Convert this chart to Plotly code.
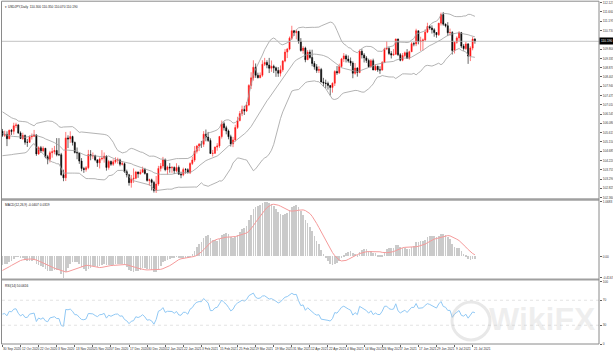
import numpy as np
import pandas as pd
import plotly.graph_objects as go

# ---------------- data (USDJPY daily, 30 Sep 2020 - 22 Jul 2021) ----------------
warmup_closes = [
    107.45, 107.50, 107.50, 107.35, 107.55, 107.25, 107.20, 106.90, 107.30, 107.25, 106.90, 107.25,
    106.95, 107.25, 106.80, 107.20, 106.85, 106.10, 105.40, 105.00, 105.10, 104.75, 105.85,
    106.00, 105.70, 105.55, 105.55, 105.90, 105.95, 106.50, 106.90, 106.90, 106.60, 106.00, 105.40,
    106.10, 105.80, 105.80, 105.90, 106.35, 106.05, 106.60, 105.35, 105.90,
    105.95, 106.15, 106.20, 106.25, 106.25, 106.00, 106.20, 106.15, 106.15, 105.70, 105.40, 104.95,
    104.75, 104.55, 104.65, 104.95, 105.40, 105.40, 105.55, 105.50, 105.70,
]

opens = [
    105.69,
    105.48, 105.53, 105.31, 105.73, 105.68, 105.96, 106.00, 105.60, 105.32, 105.47, 105.13, 105.13, 105.41, 105.43, 105.50, 104.55, 104.86, 104.70, 104.83, 104.41, 104.28, 104.61,
    104.66, 104.72, 104.51, 104.51, 103.50, 103.35, 105.35, 105.30, 105.42, 105.12, 104.62, 104.60, 104.19, 103.82, 103.77, 103.86, 104.52, 104.45, 104.46, 104.25, 104.10,
    104.30, 104.33, 104.44, 103.87, 104.17, 104.03, 104.15, 104.24, 104.25, 104.03, 104.06, 103.66, 103.50, 103.11, 103.29, 103.33, 103.64, 103.55, 103.63, 103.77, 103.57, 103.22,
    103.25, 103.12, 102.71, 103.04, 103.82, 103.94, 104.25, 103.76, 103.89, 103.85, 103.87, 103.70, 103.87, 103.53, 103.50, 103.77, 103.76, 103.60, 104.07, 104.24,
    104.68, 104.94, 105.04, 105.03, 105.54, 105.39, 105.22, 104.57, 104.58, 104.89, 104.95, 105.42, 106.06, 105.86, 105.70, 105.41, 105.05, 105.25, 105.87, 106.22,
    106.57, 106.77, 106.70, 107.00, 107.98, 108.36, 108.89, 108.49, 108.37, 108.49, 109.04, 109.13, 109.00, 108.84, 108.94, 108.86, 108.73, 108.59, 108.76, 109.20, 109.65, 109.80, 110.35,
    110.72, 110.62, 110.69, 110.18, 109.73, 109.85, 109.27, 109.65, 109.38, 109.08, 108.91, 108.73, 108.78, 108.15, 108.10, 108.08, 107.98, 107.88, 108.09, 108.68, 108.61, 108.93,
    109.31, 109.46, 109.30, 109.20, 109.10, 108.59, 108.85, 108.63, 109.69, 109.51, 109.36, 109.23, 108.92, 109.22, 108.75, 108.94, 108.76, 108.75, 109.13, 109.81, 109.83,
    109.58, 109.50, 109.54, 110.30, 109.52, 109.24, 109.48, 109.62, 109.34, 109.67, 110.07, 110.06, 110.72, 110.18, 110.21, 110.26, 110.65, 110.93, 110.86, 110.77, 110.63, 110.52,
    111.10, 111.53, 111.05, 110.97, 110.62, 110.63, 109.73, 110.14, 110.36, 110.62, 109.95, 109.83, 110.06, 109.45, 109.85, 110.30,
]

highs = [
    105.80,
    105.71, 105.68, 105.77, 105.80, 106.11, 106.11, 106.05, 105.68, 105.61, 105.52, 105.30, 105.48, 105.57, 105.75, 105.53, 104.93, 104.95, 104.93, 104.85, 104.50, 104.70, 104.85,
    104.95, 105.34, 105.34, 104.60, 103.76, 105.65, 105.48, 105.68, 105.46, 105.17, 104.87, 104.62, 104.34, 103.90, 103.94, 104.75, 104.74, 104.62, 104.51, 104.28, 104.38,
    104.74, 104.62, 104.47, 104.25, 104.22, 104.28, 104.38, 104.36, 104.31, 104.19, 104.12, 103.76, 103.55, 103.49, 103.82, 103.70, 103.67, 103.77, 103.91, 103.85, 103.57, 103.31,
    103.31, 103.20, 103.44, 103.95, 104.09, 104.40, 104.32, 103.96, 104.09, 103.94, 103.92, 104.08, 103.97, 103.66, 103.86, 103.84, 103.83, 104.13, 104.41, 104.94,
    105.00, 105.09, 105.20, 105.69, 105.77, 105.65, 105.33, 104.75, 104.92, 105.09, 105.45, 106.22, 106.17, 105.96, 105.77, 105.51, 105.40, 106.01, 106.41, 106.70,
    106.97, 106.96, 107.15, 108.04, 108.64, 109.24, 109.08, 108.62, 108.63, 109.24, 109.36, 109.24, 109.36, 109.23, 109.02, 108.92, 108.90, 108.98, 109.25, 109.80, 109.86, 110.43, 110.97,
    110.76, 110.78, 110.71, 110.35, 109.95, 109.92, 109.75, 109.77, 109.77, 109.20, 109.05, 108.94, 108.86, 108.36, 108.27, 108.17, 108.00, 108.13, 108.74, 108.95, 109.07, 109.36,
    109.60, 109.54, 109.48, 109.38, 109.19, 109.10, 108.89, 109.78, 109.80, 109.60, 109.45, 109.32, 109.30, 109.32, 109.04, 108.97, 108.94, 109.20, 109.87, 110.20, 109.92,
    109.70, 109.80, 110.33, 110.33, 109.60, 109.60, 109.68, 109.80, 109.72, 110.15, 110.16, 110.82, 110.72, 110.42, 110.33, 110.79, 111.12, 111.01, 110.99, 110.85, 110.65, 111.11,
    111.63, 111.66, 111.08, 111.15, 110.83, 110.70, 110.20, 110.44, 110.70, 110.66, 110.05, 110.16, 110.10, 109.94, 110.42, 110.35,
]

lows = [
    105.40,
    105.40, 104.94, 105.28, 105.50, 105.52, 105.84, 105.55, 105.30, 105.25, 105.01, 104.90, 105.10, 105.27, 105.40, 104.45, 104.50, 104.60, 104.63, 104.33, 104.03, 104.12, 104.36,
    104.53, 104.43, 104.44, 103.46, 103.18, 103.19, 104.84, 105.10, 104.97, 104.57, 104.28, 104.05, 103.68, 103.60, 103.66, 103.78, 104.23, 104.30, 104.18, 103.90, 103.82,
    104.22, 104.11, 103.71, 103.76, 103.95, 103.95, 104.07, 104.06, 103.93, 103.97, 103.60, 103.37, 102.96, 102.86, 103.10, 103.28, 103.35, 103.51, 103.62, 103.51, 103.16, 102.96,
    102.72, 102.61, 102.59, 102.95, 103.67, 103.82, 103.68, 103.52, 103.61, 103.60, 103.54, 103.63, 103.51, 103.33, 103.43, 103.56, 103.57, 103.54, 103.99, 104.15,
    104.57, 104.69, 104.85, 104.90, 105.18, 105.15, 104.55, 104.42, 104.55, 104.71, 104.85, 105.32, 105.72, 105.53, 105.28, 104.92, 104.89, 105.17, 105.80, 106.18,
    106.44, 106.50, 106.65, 106.94, 107.80, 108.22, 108.36, 108.33, 108.34, 108.41, 108.95, 108.84, 108.60, 108.66, 108.60, 108.41, 108.41, 108.43, 108.66, 109.14, 109.35, 109.74, 110.26,
    110.46, 110.29, 110.07, 109.67, 109.57, 109.14, 109.25, 109.32, 108.94, 108.77, 108.61, 108.60, 108.13, 107.93, 107.83, 107.77, 107.48, 107.62, 107.95, 108.51, 108.56, 108.87,
    109.15, 109.13, 109.12, 108.96, 108.34, 108.52, 108.42, 108.59, 109.33, 109.13, 109.11, 108.86, 108.86, 108.75, 108.72, 108.66, 108.56, 108.72, 109.10, 109.75, 109.50,
    109.33, 109.47, 109.52, 109.45, 109.19, 109.19, 109.40, 109.32, 109.27, 109.65, 109.94, 109.95, 110.04, 109.71, 109.73, 110.19, 110.60, 110.77, 110.58, 110.42, 110.37, 110.46,
    110.98, 110.97, 110.89, 110.45, 110.47, 109.53, 109.58, 110.07, 110.18, 109.85, 109.72, 109.75, 109.06, 109.20, 109.74, 110.07,
]

closes = [
    105.48,
    105.53, 105.31, 105.73, 105.68, 105.96, 106.00, 105.60, 105.32, 105.47, 105.13, 105.13, 105.41, 105.43, 105.50, 104.55, 104.86, 104.70, 104.83, 104.41, 104.28, 104.61, 104.66,
    104.72, 104.51, 104.51, 103.50, 103.35, 105.35, 105.30, 105.42, 105.12, 104.62, 104.60, 104.19, 103.82, 103.77, 103.86, 104.52, 104.45, 104.46, 104.25, 104.10, 104.30,
    104.33, 104.44, 103.87, 104.17, 104.03, 104.15, 104.24, 104.25, 104.03, 104.06, 103.66, 103.50, 103.11, 103.29, 103.33, 103.64, 103.55, 103.63, 103.77, 103.57, 103.22, 103.25,
    103.12, 102.71, 103.04, 103.82, 103.94, 104.25, 103.76, 103.89, 103.85, 103.87, 103.70, 103.87, 103.53, 103.50, 103.77, 103.76, 103.60, 104.07, 104.24, 104.68,
    104.94, 105.04, 105.03, 105.54, 105.39, 105.22, 104.57, 104.58, 104.89, 104.95, 105.42, 106.06, 105.86, 105.70, 105.41, 105.05, 105.25, 105.87, 106.22, 106.57,
    106.77, 106.70, 107.00, 107.98, 108.36, 108.89, 108.49, 108.37, 108.49, 109.04, 109.13, 109.00, 108.84, 108.94, 108.86, 108.73, 108.59, 108.76, 109.20, 109.65, 109.80, 110.35, 110.72,
    110.62, 110.69, 110.18, 109.73, 109.85, 109.27, 109.65, 109.38, 109.08, 108.91, 108.73, 108.78, 108.15, 108.10, 108.08, 107.98, 107.88, 108.09, 108.68, 108.61, 108.93, 109.31,
    109.46, 109.30, 109.20, 109.10, 108.59, 108.85, 108.63, 109.69, 109.51, 109.36, 109.23, 108.92, 109.22, 108.75, 108.94, 108.76, 108.75, 109.13, 109.81, 109.83, 109.58,
    109.50, 109.54, 110.30, 109.52, 109.24, 109.48, 109.62, 109.34, 109.67, 110.07, 110.06, 110.72, 110.18, 110.21, 110.26, 110.65, 110.93, 110.86, 110.77, 110.63, 110.52, 111.10,
    111.53, 111.05, 110.97, 110.62, 110.63, 109.73, 110.14, 110.36, 110.62, 109.95, 109.83, 110.06, 109.45, 109.85, 110.30, 110.19,
]

price_ticks = [102.360, 102.825, 103.290, 103.755, 104.220, 104.685, 105.150, 105.615, 106.080,
               106.545, 107.010, 107.475, 107.940, 108.405, 108.870, 109.335, 109.800, 110.265,
               110.730, 111.195, 111.660, 112.125]
rsi_ticks = [0, 30, 70, 100]

n = len(closes)
dates = [d for d in pd.bdate_range("2020-09-30", "2021-07-22") if (d.month, d.day) not in [(12, 25), (1, 1)]]
assert len(dates) == n == len(opens) == len(highs) == len(lows), (len(dates), n, len(opens), len(highs), len(lows))
date_labels = [f"{d.day} {d.strftime('%b %Y')}" for d in dates]
xs = list(range(n))

# ---------------- indicators ----------------
allc = np.array(warmup_closes + closes, dtype=float)
s = pd.Series(allc)
mid = s.rolling(20).mean()
sd = s.rolling(20).std(ddof=0)
bb_up = (mid + 2 * sd).values[-n:]
bb_mid = mid.values[-n:]
bb_lo = (mid - 2 * sd).values[-n:]

def ema(a, p):
    k = 2.0 / (p + 1)
    out = np.empty_like(a)
    out[0] = a[0]
    for i in range(1, len(a)):
        out[i] = a[i] * k + out[i - 1] * (1 - k)
    return out

macd_all = ema(allc, 12) - ema(allc, 26)
sig_all = pd.Series(macd_all).rolling(9).mean().values
macd = macd_all[-n:]
sig = sig_all[-n:]

d = np.diff(allc, prepend=allc[0])
gain = pd.Series(np.clip(d, 0, None)).ewm(alpha=1 / 14, adjust=False).mean()
loss = pd.Series(np.clip(-d, 0, None)).ewm(alpha=1 / 14, adjust=False).mean()
rsi = (100 - 100 / (1 + gain / loss)).values[-n:]

# ---------------- geometry helpers ----------------
W, H = 613, 353
L, R, T, B = 2, 599, 2, 344
def fx(p): return (p - L) / (R - L)
def fy(p): return (B - p) / (B - T)

FONT = "Liberation Sans"
fig = go.Figure()

fig.add_trace(go.Scatter(x=xs, y=bb_up, mode="lines", line=dict(color="#a0a0a0", width=0.8), hoverinfo="skip"))
fig.add_trace(go.Scatter(x=xs, y=bb_mid, mode="lines", line=dict(color="#a0a0a0", width=0.8), hoverinfo="skip"))
fig.add_trace(go.Scatter(x=xs, y=bb_lo, mode="lines", line=dict(color="#a0a0a0", width=0.8), hoverinfo="skip"))
fig.add_trace(go.Candlestick(
    x=xs, open=opens, high=highs, low=lows, close=closes,
    increasing=dict(line=dict(color="#ff2020", width=0.6), fillcolor="#ff0000"),
    decreasing=dict(line=dict(color="#000000", width=0.6), fillcolor="#000000"),
    whiskerwidth=0, xaxis="x", yaxis="y"))

fig.add_trace(go.Bar(x=xs, y=macd, width=0.3, marker=dict(color="#cacaca", line=dict(width=0)),
                     xaxis="x", yaxis="y2"))
fig.add_trace(go.Scatter(x=xs, y=sig, mode="lines", line=dict(color="#f59a9a", width=1),
                         xaxis="x", yaxis="y2"))
fig.add_trace(go.Scatter(x=xs, y=rsi, mode="lines", line=dict(color="#90c8f4", width=1),
                         xaxis="x", yaxis="y3"))

mx = float(np.nanmax(np.concatenate([macd, sig])))
mn = float(np.nanmin(np.concatenate([macd, sig])))
pad = (mx - mn) * 0.01
tickfont = dict(family=FONT, size=3.2, color="#404040")

last = closes[-1]
shown_ticks = [v for v in price_ticks if abs(v - last) > 0.2]
date_ticks = xs[::8]

fig.update_layout(
    template="none",
    width=W, height=H,
    margin=dict(l=L, r=W - R, t=T, b=H - B, pad=0),
    paper_bgcolor="white", plot_bgcolor="white",
    showlegend=False,
    bargap=0,
    xaxis=dict(range=[-0.2, 263.9], anchor="y3", showgrid=False, zeroline=False, showline=False,
               tickmode="array", tickvals=date_ticks, ticktext=["" for _ in date_ticks],
               ticks="outside", ticklen=1.5, tickcolor="#606060", tickfont=tickfont,
               rangeslider=dict(visible=False), automargin=False, fixedrange=True),
    yaxis=dict(domain=[fy(198), 1], range=[102.34, 112.16], side="right", showgrid=False,
               zeroline=False, showline=False, tickmode="array", tickvals=shown_ticks,
               ticktext=[f"{v:.3f}" for v in shown_ticks], ticks="outside", ticklen=2,
               tickcolor="#606060", tickfont=tickfont, automargin=False),
    yaxis2=dict(domain=[fy(278.5), fy(201)], range=[mn - pad, mx + pad], side="right", anchor="x",
                showgrid=False, zeroline=False, showline=False, tickmode="array",
                tickvals=[mx, 0, mn], ticktext=[f"{mx:.4f}", "0.00", f"{mn:.4f}"],
                ticks="outside", ticklen=2, tickcolor="#606060", tickfont=tickfont, automargin=False),
    yaxis3=dict(domain=[0, fy(281.5)], range=[0, 100], side="right", anchor="x", showgrid=False,
                zeroline=False, showline=False, tickmode="array", tickvals=rsi_ticks,
                ticktext=[str(v) for v in rsi_ticks], ticks="outside", ticklen=2,
                tickcolor="#606060", tickfont=tickfont, automargin=False),
)

shapes = [
    dict(type="line", xref="paper", yref="y", x0=0, x1=1, y0=last, y1=last,
         line=dict(color="#b4b4b4", width=0.8)),
    dict(type="line", xref="paper", yref="y3", x0=0, x1=1, y0=70, y1=70,
         line=dict(color="#d0d0d0", width=0.6, dash="dot")),
    dict(type="line", xref="paper", yref="y3", x0=0, x1=1, y0=30, y1=30,
         line=dict(color="#d0d0d0", width=0.6, dash="dot")),
    dict(type="line", xref="paper", yref="paper", x0=0, x1=1, y0=fy(199.5), y1=fy(199.5),
         line=dict(color="#a0a0a0", width=2.5)),
    dict(type="line", xref="paper", yref="paper", x0=0, x1=1, y0=fy(279.5), y1=fy(279.5),
         line=dict(color="#a0a0a0", width=2)),
    dict(type="rect", xref="paper", yref="paper", x0=fx(1.5), x1=1, y0=0, y1=fy(1.2),
         line=dict(color="#8a8a8a", width=1)),
    dict(type="circle", xref="paper", yref="paper", x0=fx(452), x1=fx(490), y0=fy(340), y1=fy(302),
         line=dict(color="rgba(190,190,190,0.35)", width=3)),
]
fig.update_layout(shapes=shapes)

ann_font = dict(family=FONT, size=3.2, color="#202020")
annotations = [
    dict(xref="paper", yref="paper", x=fx(3), y=fy(2.5), xanchor="left", yanchor="top", showarrow=False,
         text=f"▾ USDJPY,Daily  {opens[-1]:.3f} {highs[-1]:.3f} {lows[-1]:.3f} {closes[-1]:.3f}",
         font=ann_font),
    dict(xref="paper", yref="paper", x=fx(3), y=fy(201.5), xanchor="left", yanchor="top", showarrow=False,
         text=f"MACD(12,26,9) {macd[-1]:.4f} {sig[-1]:.4f}", font=ann_font),
    dict(xref="paper", yref="paper", x=fx(3), y=fy(281.5), xanchor="left", yanchor="top", showarrow=False,
         text=f"RSI(14) {rsi[-1]:.4f}", font=ann_font),
    dict(xref="paper", yref="y", x=1.0, y=last, xanchor="left", yanchor="middle", showarrow=False,
         text=f"{last:.3f}", bgcolor="#000000", borderpad=1,
         font=dict(family=FONT, size=3.2, color="#ffffff")),
    dict(xref="paper", yref="paper", x=fx(542), y=fy(319), xanchor="center", yanchor="middle", showarrow=False,
         text="<b>WikiFX</b>", font=dict(family="Liberation Sans", size=32, color="rgba(190,190,190,0.25)")),
]
for i in date_ticks:
    annotations.append(dict(xref="x", yref="paper", x=i, y=fy(346), xanchor="left", yanchor="top",
                            showarrow=False, text=date_labels[i], borderpad=0,
                            font=dict(family=FONT, size=3.2, color="#303030")))
fig.update_layout(annotations=annotations)

fig.write_html("out.html")
